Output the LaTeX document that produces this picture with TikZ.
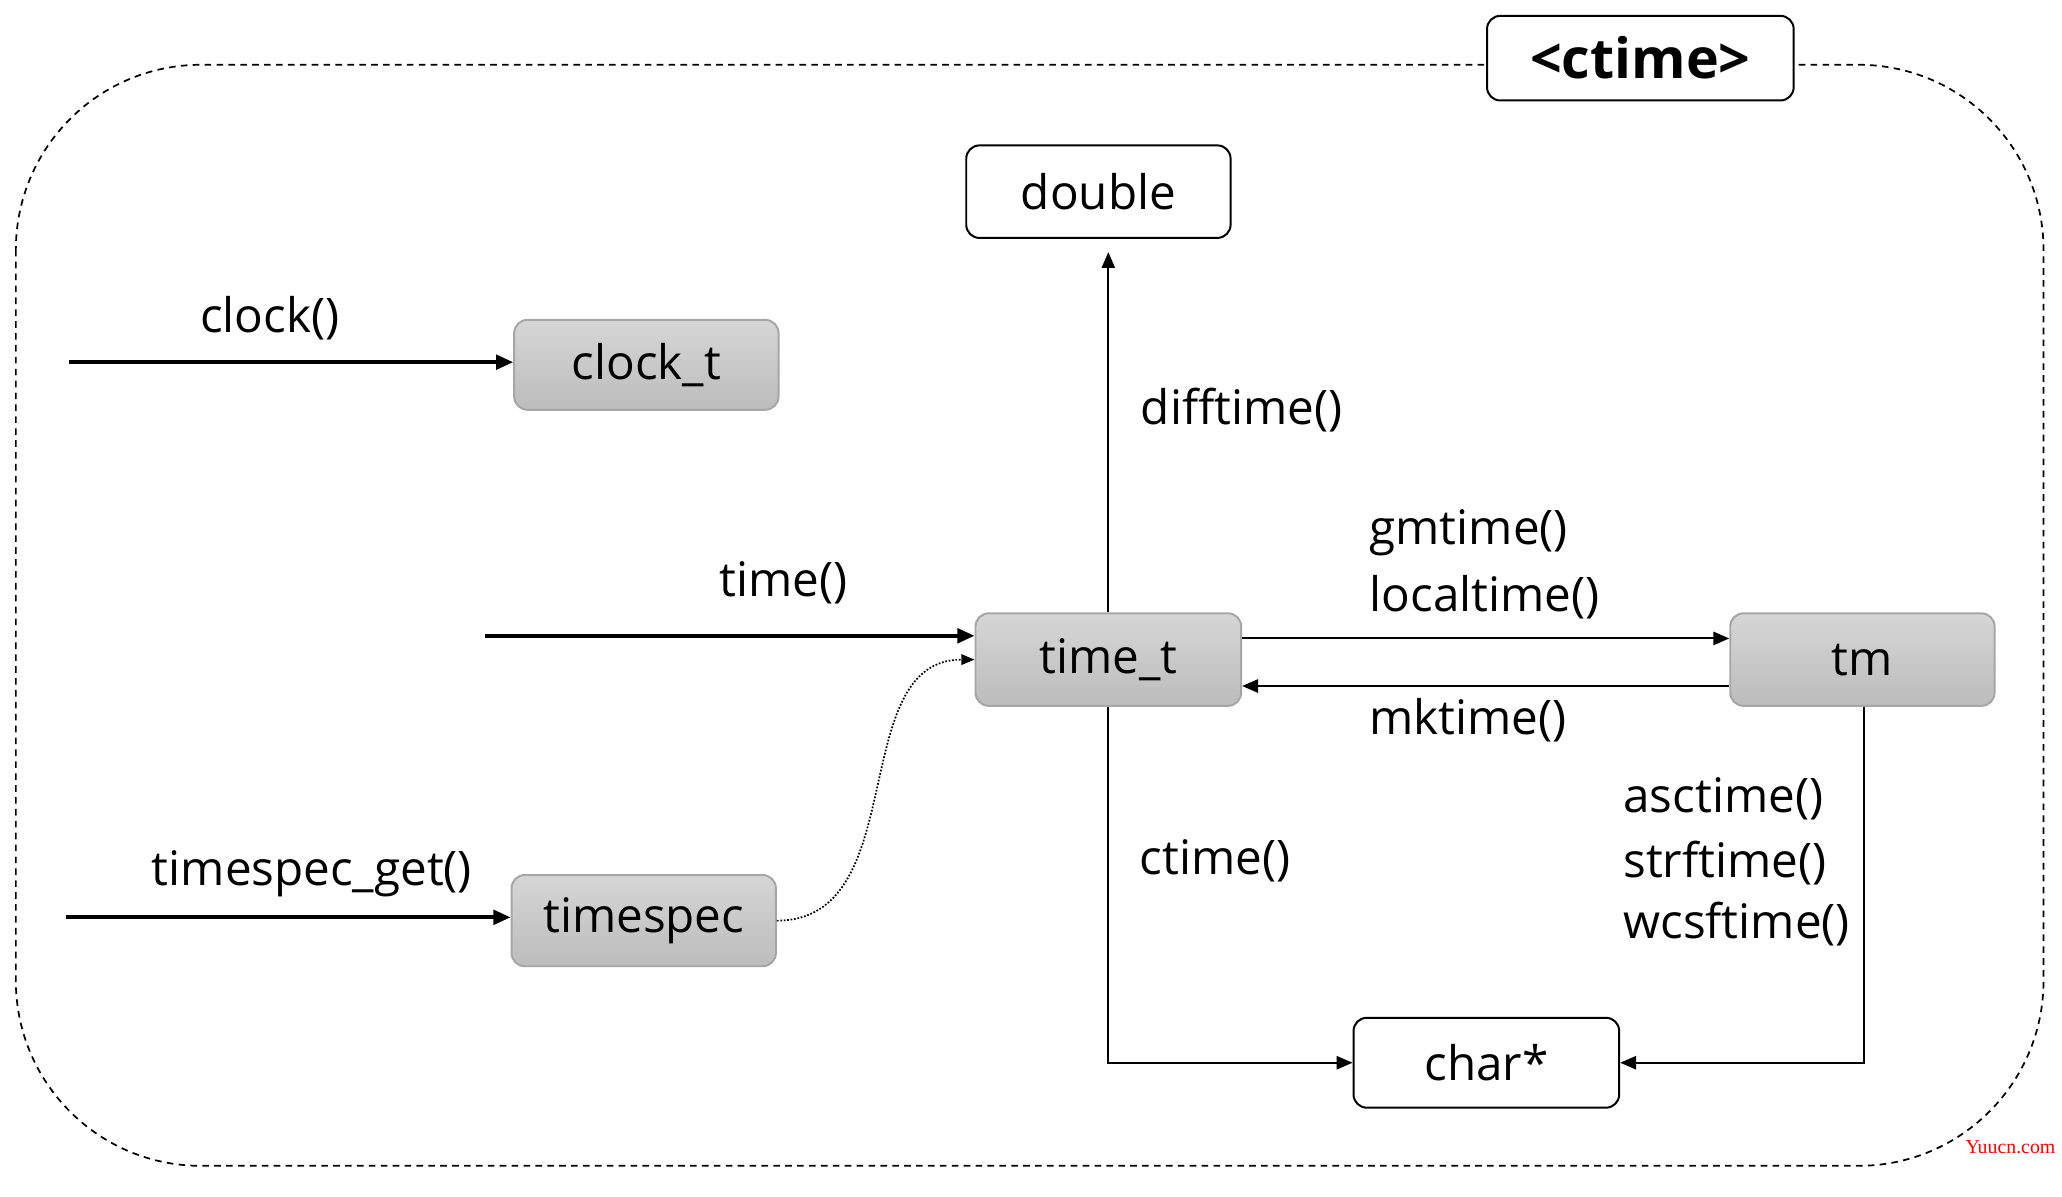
\documentclass[tikz,border=0pt]{standalone}
\usepackage{fontspec}
\setmainfont{Open Sans}
\newfontfamily\wmfont{Liberation Serif}
\usetikzlibrary{arrows.meta,calc}
\definecolor{boxtop}{HTML}{D6D6D6}
\definecolor{boxbot}{HTML}{BCBCBC}
\definecolor{boxborder}{HTML}{A6A6A6}
\newcommand\lblfont{\fontsize{36}{43}\selectfont}
\begin{document}
\begin{tikzpicture}[x=1pt,y=-1pt,
  graybox/.style={draw=boxborder, line width=1.5pt, rounded corners=10pt, top color=boxtop, bottom color=boxbot, minimum width=200pt, minimum height=69pt, inner sep=0pt, font=\lblfont},
  whitebox/.style={draw=black, line width=1.5pt, rounded corners=10pt, fill=white, minimum width=200pt, minimum height=69pt, inner sep=0pt, font=\lblfont},
  lbl/.style={inner sep=0pt, font=\lblfont, anchor=west},
  thickarrow/.style={line width=2.8pt, -{Triangle[length=13pt,width=11pt]}},
  thinarrow/.style={line width=1.5pt, -{Triangle[length=12pt,width=10pt]}},
  dotarrow/.style={line width=1.3pt, dash pattern=on 1.3pt off 1.3pt, -{Triangle[length=10pt,width=8pt]}},
]
\useasboundingbox (0,0) rectangle (1560,905);
\fill[white] (0,0) rectangle (1560,905);
% outer frame
\draw[line width=1.3pt, dash pattern=on 5pt off 4pt, rounded corners=140pt] (12,49) rectangle (1546,882);
% title
\node[draw=black, line width=1.5pt, fill=white, rounded corners=10pt, minimum width=232pt, minimum height=64pt, inner sep=0pt, font=\fontsize{42}{48}\selectfont\bfseries] (title) at (1241,44) {<ctime>};
% boxes
\node[whitebox, minimum height=70pt] (double) at (831,145) {double};
\node[graybox, minimum height=68pt] (clockt) at (489,276) {clock\_t};
\node[graybox, minimum width=201pt, minimum height=70pt] (timet) at (838.5,499) {time\_t};
\node[graybox, minimum height=70pt] (tm) at (1409,499) {tm};
\node[graybox] (timespec) at (487,696.5) {timespec};
\node[whitebox, minimum width=201pt, minimum height=68pt] (charp) at (1124.5,804) {char*};
% free ends
\coordinate (clockin) at (52,274);
\coordinate (timein) at (367,481);
\coordinate (tsin) at (50,694);
% connectors
\draw[thickarrow] (clockin) -- (clockin -| clockt.west);
\draw[thickarrow] (timein) -- (timein -| timet.west);
\draw[thickarrow] (tsin) -- (tsin -| timespec.west);
\draw[dotarrow] (timespec.east) .. controls +(103,0) and +(-98,0) .. (timet.west);
\coordinate (dbltip) at ($(timet.north |- double.south)+(0,10)$);
\draw[thinarrow] (timet.north) -- (dbltip);
\draw[thinarrow] ([yshift=16pt]timet.east) -- ([yshift=16pt]timet.east -| tm.west);
\draw[thinarrow] ([yshift=-20pt]tm.west) -- ([yshift=-20pt]tm.west -| timet.east);
\draw[thinarrow] (timet.south) |- (charp.west);
\draw[thinarrow] ([xshift=1pt]tm.south) |- (charp.east);
% labels
\node[lbl, anchor=center] (lclock) at (204,241) {clock()};
\node[lbl, anchor=center] (ltime) at (593,441) {time()};
\node[lbl, anchor=center] (lts) at (236,661) {timespec\_get()};
\node[lbl] (ldiff) at (863,310) {difftime()};
\node[lbl] (lgm) at (1036,403) {gmtime()};
\node[lbl] (llocal) at (1036,452) {localtime()};
\node[lbl] (lmk) at (1036,545) {mktime()};
\node[lbl] (lctime) at (862,651) {ctime()};
\node[lbl] (lasc) at (1228,604) {asctime()};
\node[lbl] (lstrf) at (1228,653) {strftime()};
\node[lbl] (lwcs) at (1228,699) {wcsftime()};
\node[inner sep=0pt, text=red, font=\wmfont\fontsize{15}{17}\selectfont] (wm) at (1521,868) {Yuucn.com};
\end{tikzpicture}
\end{document}
